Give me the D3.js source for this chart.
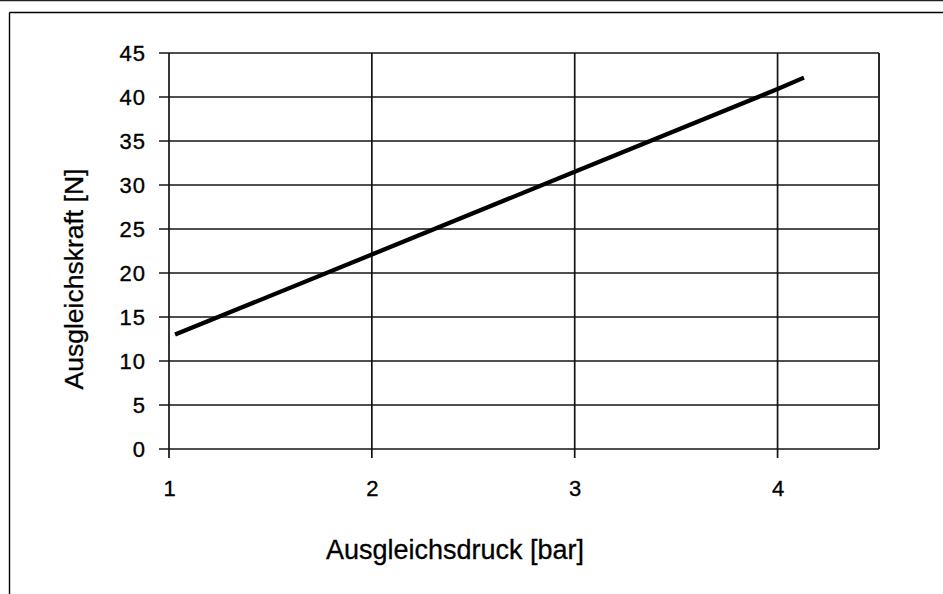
<!DOCTYPE html>
<html>
<head>
<meta charset="utf-8">
<script src="https://cdn.jsdelivr.net/npm/d3@7"></script>
<style>
  html, body { margin: 0; padding: 0; background: #fff; }
  svg { display: block; font-family: "Liberation Sans", Arial, sans-serif; }
</style>
</head>
<body>
<svg id="chart" width="943" height="594"></svg>
<script>
// Data
const pressure = [1.03, 2, 3, 4, 4.13];          // Ausgleichsdruck [bar]
const force    = [13.0, 22.1, 31.5, 40.9, 42.2]; // Ausgleichskraft [N]
const xTicks = [1, 2, 3, 4];
const yTicks = [0, 5, 10, 15, 20, 25, 30, 35, 40, 45];
const xTitle = "Ausgleichsdruck [bar]";
const yTitle = "Ausgleichskraft [N]";

const svg = d3.select("#chart");
svg.append("rect").attr("width", 943).attr("height", 594).attr("fill", "#fff");

// outer frame lines
svg.append("line").attr("x1", 0).attr("x2", 943).attr("y1", 0.5).attr("y2", 0.5)
  .attr("stroke", "#222").attr("stroke-width", 1.5);
svg.append("line").attr("x1", 9.5).attr("x2", 943).attr("y1", 12.5).attr("y2", 12.5)
  .attr("stroke", "#000").attr("stroke-width", 1.4);
svg.append("line").attr("x1", 9.5).attr("x2", 9.5).attr("y1", 12.5).attr("y2", 594)
  .attr("stroke", "#000").attr("stroke-width", 1.4);

const x = d3.scaleLinear().domain([1, 4.5]).range([169, 879]);
const y = d3.scaleLinear().domain([0, 45]).range([449, 53]);

const gridColor = "#141414";

// horizontal gridlines (with tick stub to the left)
svg.append("g").selectAll("line").data(yTicks).join("line")
  .attr("x1", 159).attr("x2", x(4.5))
  .attr("y1", d => y(d)).attr("y2", d => y(d))
  .attr("stroke", gridColor).attr("stroke-width", 1.7);

// vertical gridlines (with tick stub below)
svg.append("g").selectAll("line").data(xTicks).join("line")
  .attr("x1", d => x(d)).attr("x2", d => x(d))
  .attr("y1", y(45)).attr("y2", 458)
  .attr("stroke", gridColor).attr("stroke-width", 1.7);

// right border of plot
svg.append("line").attr("x1", x(4.5)).attr("x2", x(4.5))
  .attr("y1", y(45)).attr("y2", y(0))
  .attr("stroke", "#2a2a2a").attr("stroke-width", 2);

// y axis labels
const yAxis = d3.axisLeft(y).tickValues(yTicks).tickFormat(d3.format("d")).tickSize(0).tickPadding(23);
const gy = svg.append("g").attr("transform", "translate(169,0)").call(yAxis);
gy.select(".domain").remove();
gy.selectAll("text")
  .style("font-size", "22px")
  .style("font-family", "'Liberation Sans', Arial, sans-serif")
  .style("letter-spacing", "1px")
  .attr("fill", "#000").attr("stroke", "#000").attr("stroke-width", 0.35);

// x axis labels
const xAxis = d3.axisBottom(x).tickValues(xTicks).tickFormat(d3.format("d")).tickSize(0).tickPadding(31);
const gx = svg.append("g").attr("transform", "translate(0,449)").call(xAxis);
gx.select(".domain").remove();
gx.selectAll("text")
  .style("font-size", "22px")
  .style("font-family", "'Liberation Sans', Arial, sans-serif")
  .attr("fill", "#000").attr("stroke", "#000").attr("stroke-width", 0.35);

// the data line
const line = d3.line().x((d, i) => x(pressure[i])).y(d => y(d));
svg.append("path").datum(force)
  .attr("d", line)
  .attr("fill", "none").attr("stroke", "#000").attr("stroke-width", 4.3)
  .attr("stroke-linecap", "butt");

// titles
svg.append("text").attr("x", 455).attr("y", 559)
  .attr("text-anchor", "middle").style("font-size", "27px")
  .attr("fill", "#000").attr("stroke", "#000").attr("stroke-width", 0.3)
  .text(xTitle);
svg.append("text")
  .attr("transform", "translate(82.5,279) rotate(-90)")
  .attr("text-anchor", "middle").style("font-size", "26.5px")
  .attr("fill", "#000").attr("stroke", "#000").attr("stroke-width", 0.3)
  .text(yTitle);
</script>
</body>
</html>
